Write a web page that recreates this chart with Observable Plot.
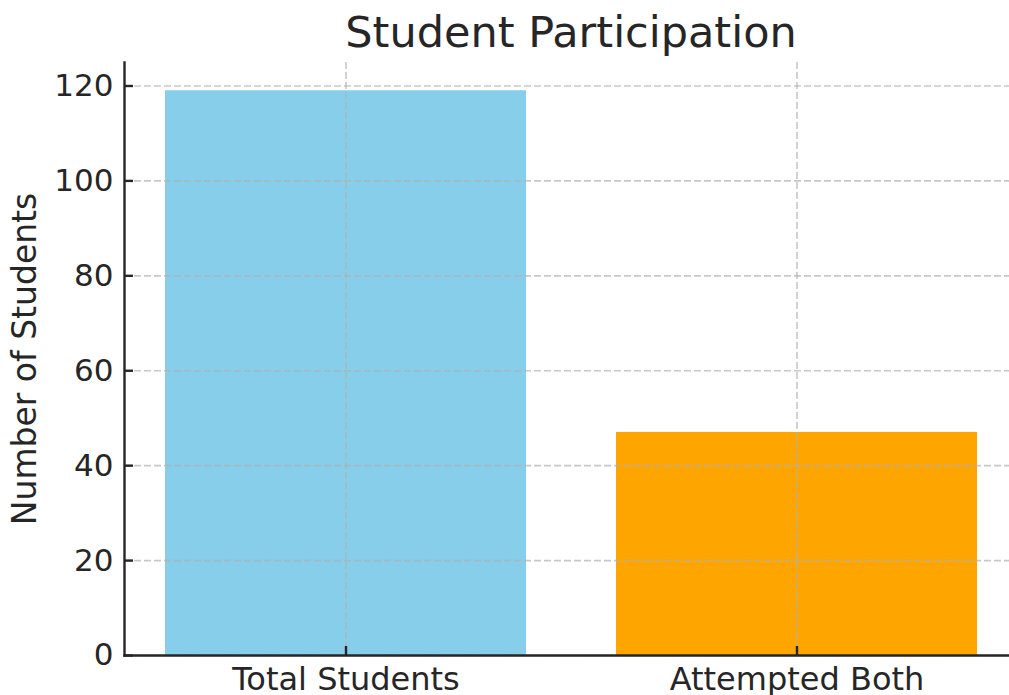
<!DOCTYPE html>
<html><head><meta charset="utf-8">
<script src="https://cdn.jsdelivr.net/npm/d3@7"></script>
<script src="https://cdn.jsdelivr.net/npm/@observablehq/plot@0.6"></script>
<style>
body{margin:0;overflow:hidden;background:#fff;font-family:"DejaVu Sans",sans-serif;}
#title{margin-left:124px;width:894px;height:47px;padding-top:8px;line-height:48px;font-size:43px;text-align:center;color:#262626;white-space:nowrap;}
</style></head><body>
<div id="title">Student Participation</div>
<div id="chart"></div>
<script>
const categories = ["Total Students", "Attempted Both"];
const values = [119, 47];
const colors = ["#87CEEB", "#FFA500"];
const yTicks = [0, 20, 40, 60, 80, 100, 120];
const yLabel = "Number of Students";

const data = categories.map((c, i) => ({category: c, value: values[i], color: colors[i]}));
const gridStyle = {stroke: "#b0b0b0", strokeOpacity: 0.7, strokeWidth: 1.6, strokeDasharray: "7,3"};

const chart = Plot.plot({
  width: 1009, height: 640,
  marginLeft: 124, marginRight: -9, marginTop: 7, marginBottom: 40,
  style: {fontFamily: "DejaVu Sans", fontSize: "32px", color: "#262626", background: "#fff", overflow: "hidden"},
  x: {type: "band", domain: categories, paddingInner: 0.2, paddingOuter: 0.09},
  y: {domain: [0, d3.max(values) * 1.05]},
  marks: [
    Plot.barY(data, {x: "category", y: "value", fill: "color"}),
    Plot.gridY(yTicks, gridStyle),
    Plot.gridX(categories, gridStyle),
    Plot.axisY(yTicks, {tickSize: -9, tickPadding: 20, strokeWidth: 2.4, label: null, fontSize: 31}),
    Plot.axisX(categories, {tickSize: -9, tickPadding: 21, strokeWidth: 2.4, label: null, fontSize: 32}),
    Plot.frame({anchor: "left", strokeWidth: 2.4}),
    Plot.frame({anchor: "bottom", strokeWidth: 2.4}),
    Plot.text([yLabel], {frameAnchor: "left", rotate: -90, dx: -99, textAnchor: "middle", fontSize: 33, fill: "#262626"})
  ]
});
document.getElementById("chart").append(chart);
</script>
</body></html>
